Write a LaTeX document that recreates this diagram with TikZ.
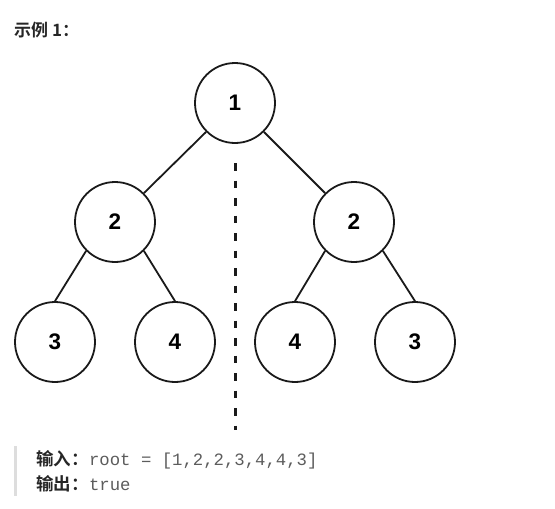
\documentclass[tikz,border=0pt]{standalone}
\usepackage{fontspec}
\setmainfont{Liberation Sans}
\setmonofont{Liberation Mono}
\newfontfamily\cjkbold[BoldFont={Noto Sans CJK SC Bold}]{Noto Sans CJK SC}
\usetikzlibrary{positioning}
\definecolor{treeline}{HTML}{1A1A1A}
\definecolor{labeltext}{HTML}{262626}
\definecolor{codegray}{HTML}{5C5C5C}
\definecolor{quotebar}{HTML}{DDDDDD}

\begin{document}
\begin{tikzpicture}[
      x=1pt, y=-1pt,
      treenode/.style={draw=treeline, circle, line width=1.8pt,
        minimum size=80pt, inner sep=0pt,
        font=\fontsize{22.5}{22.5}\selectfont\bfseries},
      treeedge/.style={draw=treeline, line width=1.8pt},
      caption/.style={anchor=base west, inner sep=0pt, text=labeltext}
    ]
      \useasboundingbox (0,0) rectangle (555,509);
      \node[caption, font=\cjkbold\bfseries\fontsize{17}{17}\selectfont]
        (title) at (14,36.5) {示例 1：};
      % tree
      \node[treenode] (root) at (235,103) {1};
      \node[treenode] (left) at (115,222) {2};
      \node[treenode] (right) at (354,222) {2};
      \node[treenode] (leftleft) at (55,342) {3};
      \node[treenode] (leftright) at (175,342) {4};
      \node[treenode] (rightleft) at (295,342) {4};
      \node[treenode] (rightright) at (415,342) {3};
      \draw[treeedge] (root.south west) -- (left.north east);
      \draw[treeedge] (root.south east) -- (right.north west);
      \draw[treeedge] (left.south west) -- (leftleft.north);
      \draw[treeedge] (left.south east) -- (leftright.north);
      \draw[treeedge] (right.south west) -- (rightleft.north);
      \draw[treeedge] (right.south east) -- (rightright.north);
      % mirror axis
      \coordinate (axistop) at (235,163);
      \coordinate (axisbottom) at (235,430);
      \draw[treeline, line width=3pt, dash pattern=on 7.5pt off 10pt]
        (axistop) -- (axisbottom);
      % example text
      \fill[quotebar] (14,446) rectangle (17,496);
      \node[caption, font=\cjkbold\bfseries\fontsize{17.5}{17.5}\selectfont]
        (inlabel) at (36,465) {输入：};
      \node[caption, text=codegray, font=\ttfamily\fontsize{17.3}{17.3}\selectfont,
        right=0pt of inlabel.base east, anchor=base west]
        (incode) {root = [1,2,2,3,4,4,3]};
      \node[caption, font=\cjkbold\bfseries\fontsize{17.5}{17.5}\selectfont]
        (outlabel) at (36,490) {输出：};
      \node[caption, text=codegray, font=\ttfamily\fontsize{17.3}{17.3}\selectfont,
        right=0pt of outlabel.base east, anchor=base west]
        (outcode) {true};
    \end{tikzpicture}
\end{document}
